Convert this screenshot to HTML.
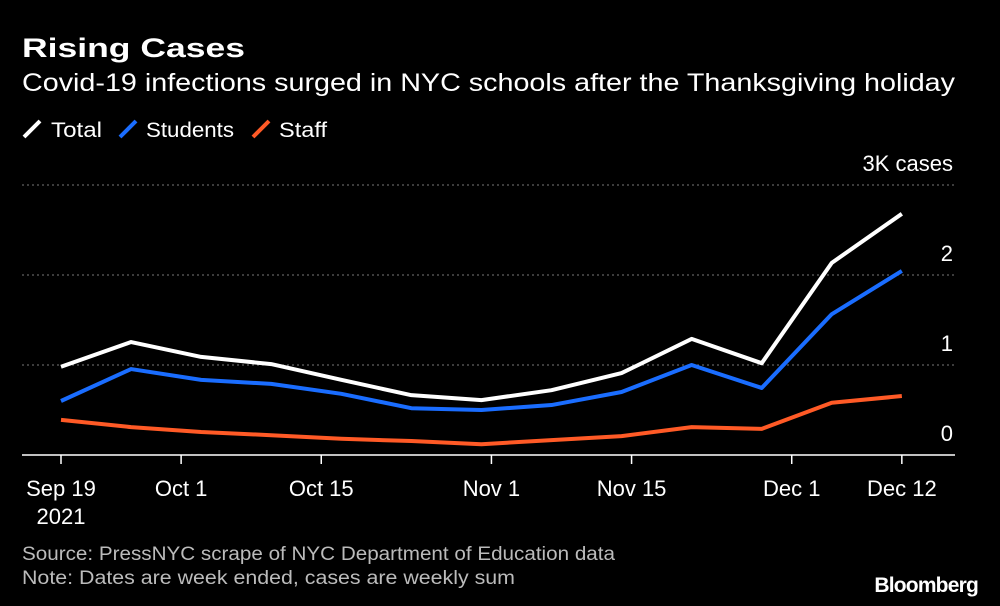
<!DOCTYPE html>
<html><head><meta charset="utf-8"><style>
body{margin:0;background:#000;width:1000px;height:606px;overflow:hidden;font-family:"Liberation Sans",sans-serif;color:#fff}
svg{position:absolute;left:0;top:0}
</style></head><body>
<svg width="1000" height="606">
<text x="22" y="57" font-size="27" font-weight="bold" fill="#fff" textLength="223" lengthAdjust="spacingAndGlyphs">Rising Cases</text>
<text x="22" y="91" font-size="25" fill="#fff" textLength="933" lengthAdjust="spacingAndGlyphs">Covid-19 infections surged in NYC schools after the Thanksgiving holiday</text>
<g font-size="21" fill="#fff">
<line x1="24" y1="137" x2="40" y2="121" stroke="#fff" stroke-width="4"/>
<text x="51" y="137" textLength="51" lengthAdjust="spacingAndGlyphs">Total</text>
<line x1="120" y1="137" x2="136" y2="121" stroke="#1a6dff" stroke-width="4"/>
<text x="146" y="137" textLength="88" lengthAdjust="spacingAndGlyphs">Students</text>
<line x1="253" y1="137" x2="269" y2="121" stroke="#ff5a26" stroke-width="4"/>
<text x="279" y="137" textLength="48" lengthAdjust="spacingAndGlyphs">Staff</text>
</g>
<g id="grid"></g><g id="series"></g><g id="xaxis"></g>
<text x="22" y="560" font-size="19" fill="#bbb" textLength="593" lengthAdjust="spacingAndGlyphs">Source: PressNYC scrape of NYC Department of Education data</text>
<text x="22" y="584" font-size="19" fill="#bbb" textLength="493" lengthAdjust="spacingAndGlyphs">Note: Dates are week ended, cases are weekly sum</text>
<text x="978" y="592" font-size="21" font-weight="bold" fill="#fff" text-anchor="end" letter-spacing="-0.8">Bloomberg</text>
</svg>
<script>
const days=[0,7,14,21,28,35,42,49,56,63,70,77,84];
const total=[980,1255,1090,1010,835,665,610,720,910,1290,1020,2135,2680];
const students=[600,955,835,790,680,520,500,555,700,1000,745,1565,2045];
const staff=[390,310,255,220,180,155,120,165,210,310,290,580,655];
const yTicks=[0,1000,2000,3000];
const yTickLabels=["0","1","2","3K cases"];
const xTickDays=[0,12,26,43,57,73,84];
const xTickLabels=["Sep 19","Oct 1","Oct 15","Nov 1","Nov 15","Dec 1","Dec 12"];
const ns="http://www.w3.org/2000/svg";
const X=d=>61+d*10.01, Y=v=>455-v*0.09;
function mk(t,a,p){const e=document.createElementNS(ns,t);for(const k in a)e.setAttribute(k,a[k]);p.appendChild(e);return e;}
const g=document.getElementById('grid');
yTicks.forEach((v,i)=>{
 const l=mk('line',{x1:22,x2:955,y1:Y(v),y2:Y(v),stroke:v===0?'#fff':'#777','stroke-width':v===0?1.5:1,'stroke-dasharray':v===0?'':'2,3'},g);
 
 
 const t=mk('text',{x:953,y:Y(v)-14,'font-size':22,fill:'#fff','text-anchor':'end'},g);
 t.textContent=yTickLabels[i];
 
 
});
const s=document.getElementById('series');
[[staff,'#ff5a26','staff-line'],[students,'#1a6dff','students-line'],[total,'#fff','total-line']].forEach(([arr,c,n])=>{
 const p=mk('polyline',{points:arr.map((v,i)=>X(days[i])+','+Y(v)).join(' '),fill:'none',stroke:c,'stroke-width':4,'stroke-linejoin':'round'},s);
 
 
});
const xa=document.getElementById('xaxis');
xTickDays.forEach((d,i)=>{
 const l=mk('line',{x1:X(d),x2:X(d),y1:455,y2:464,stroke:'#fff','stroke-width':1.5},xa);
 
 
 const t=mk('text',{x:X(d),y:496,'font-size':22,fill:'#fff','text-anchor':'middle'},xa);
 t.textContent=xTickLabels[i];
 
 
});
const yr=mk('text',{x:X(0),y:524,'font-size':22,fill:'#fff','text-anchor':'middle'},xa);
yr.textContent='2021';


</script>
</body></html>
